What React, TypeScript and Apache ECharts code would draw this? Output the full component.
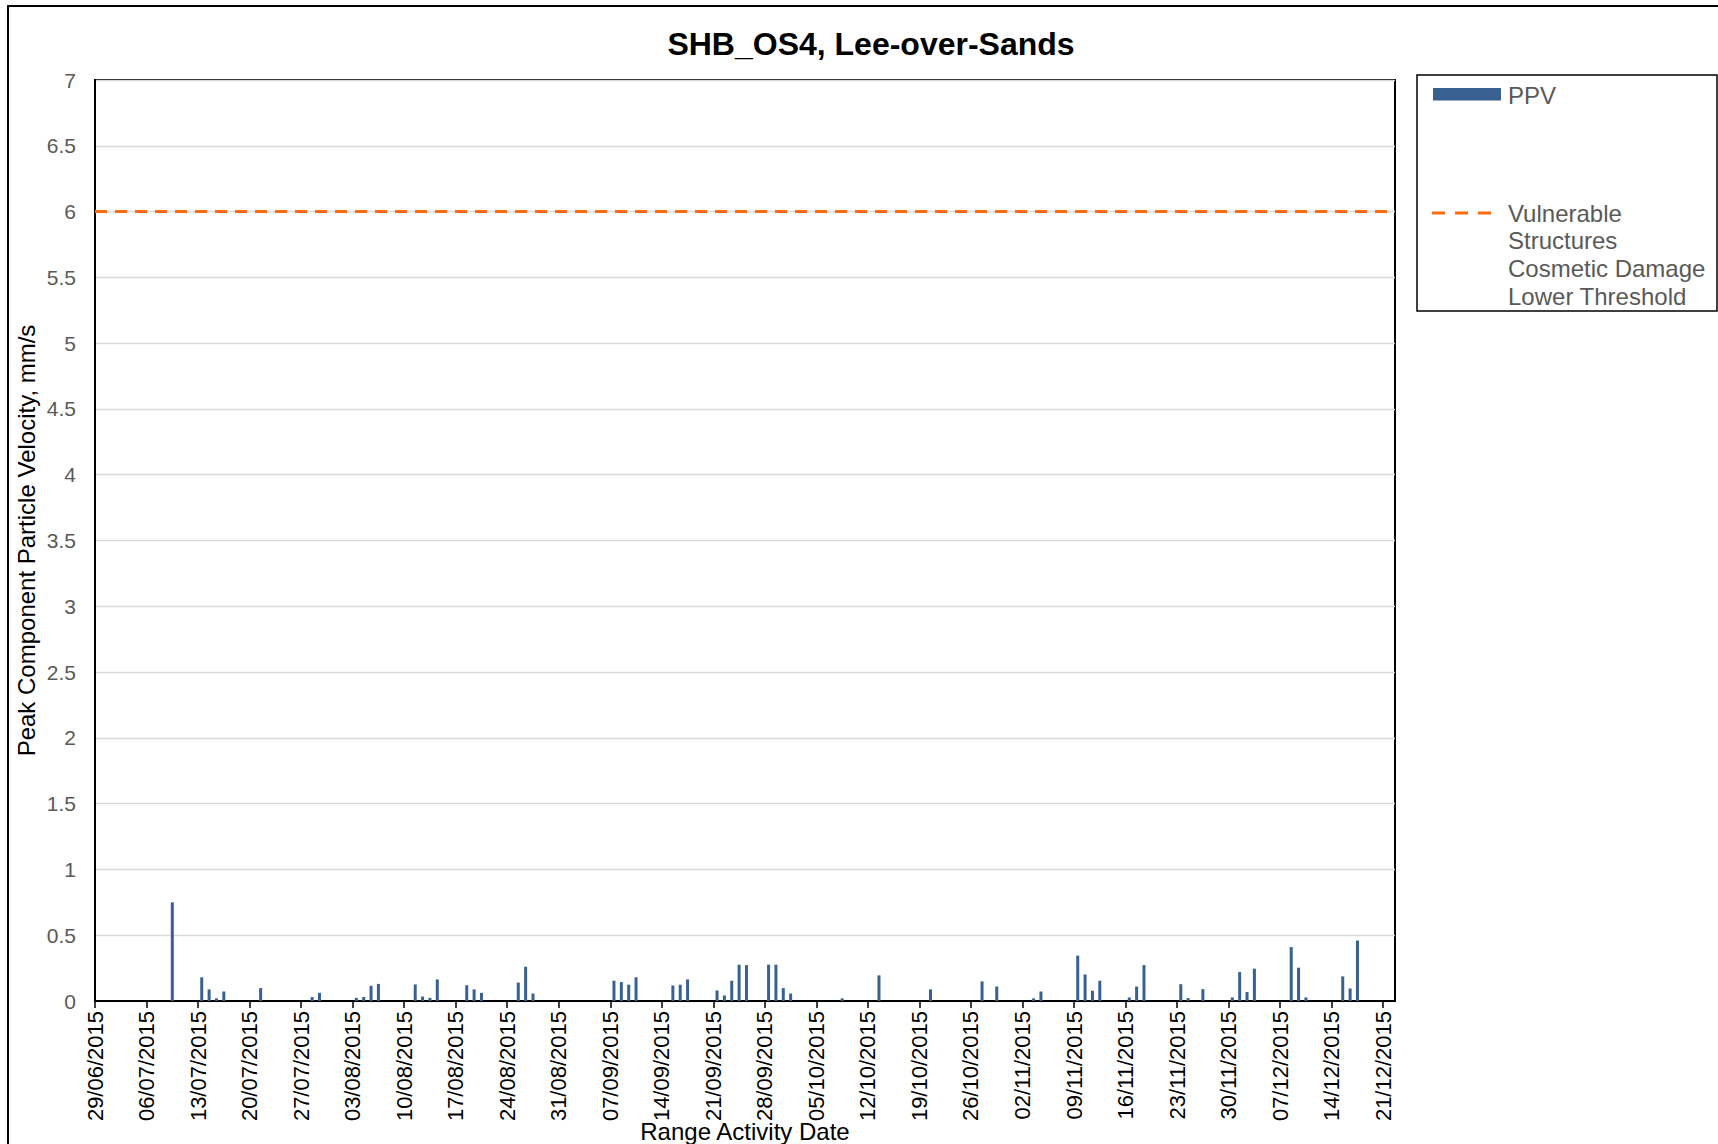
import React, { useEffect, useRef } from "react";
import * as echarts from "echarts";

const TITLE = "SHB_OS4, Lee-over-Sands";
const X_NAME = "Range Activity Date";
const Y_NAME = "Peak Component Particle Velocity, mm/s";
const SERIES_NAME = "PPV";
const THRESHOLD_NAME = ["Vulnerable", "Structures", "Cosmetic Damage", "Lower Threshold"];
const THRESHOLD = 6;
const AXIS_START = "29/06/2015";
const AXIS_END_DAYS = 176.6;
const TICK_STEP_DAYS = 7;
const Y_MIN = 0;
const Y_MAX = 7;
const Y_STEP = 0.5;

const dates = [
  "09/07/2015", "13/07/2015", "14/07/2015", "15/07/2015", "16/07/2015", "21/07/2015",
  "28/07/2015", "29/07/2015", "03/08/2015", "04/08/2015", "05/08/2015", "06/08/2015",
  "11/08/2015", "12/08/2015", "13/08/2015", "14/08/2015", "18/08/2015", "19/08/2015",
  "20/08/2015", "25/08/2015", "26/08/2015", "27/08/2015", "07/09/2015", "08/09/2015",
  "09/09/2015", "10/09/2015", "15/09/2015", "16/09/2015", "17/09/2015", "21/09/2015",
  "22/09/2015", "23/09/2015", "24/09/2015", "25/09/2015", "28/09/2015", "29/09/2015",
  "30/09/2015", "01/10/2015", "08/10/2015", "13/10/2015", "20/10/2015", "27/10/2015",
  "29/10/2015", "03/11/2015", "04/11/2015", "09/11/2015", "10/11/2015", "11/11/2015",
  "12/11/2015", "16/11/2015", "17/11/2015", "18/11/2015", "23/11/2015", "24/11/2015",
  "26/11/2015", "30/11/2015", "01/12/2015", "02/12/2015", "03/12/2015", "08/12/2015",
  "09/12/2015", "10/12/2015", "15/12/2015", "16/12/2015", "17/12/2015",
];

const ppv = [
  0.75, 0.18, 0.088, 0.02, 0.072, 0.098,
  0.03, 0.062, 0.024, 0.03, 0.116, 0.13,
  0.126, 0.034, 0.024, 0.164, 0.12, 0.088,
  0.062, 0.14, 0.26, 0.057, 0.154, 0.144,
  0.124, 0.18, 0.118, 0.124, 0.164, 0.08,
  0.042, 0.154, 0.276, 0.273, 0.276, 0.276,
  0.098, 0.057, 0.02, 0.195, 0.088, 0.149,
  0.11, 0.02, 0.072, 0.345, 0.202, 0.078,
  0.154, 0.027, 0.11, 0.273, 0.128, 0.022,
  0.09, 0.027, 0.22, 0.068, 0.246, 0.41,
  0.253, 0.027, 0.187, 0.095, 0.46,
];

const DAY_MS = 86400000;
function toUTC(s: string): number {
  const [d, m, y] = s.split("/").map(Number);
  return Date.UTC(y, m - 1, d);
}
const START_MS = toUTC(AXIS_START);
function dayIndex(s: string): number {
  return Math.round((toUTC(s) - START_MS) / DAY_MS);
}
function fmtDay(v: number): string {
  const dt = new Date(START_MS + v * DAY_MS);
  const dd = String(dt.getUTCDate()).padStart(2, "0");
  const mm = String(dt.getUTCMonth() + 1).padStart(2, "0");
  return `${dd}/${mm}/${dt.getUTCFullYear()}`;
}

const tickDays: number[] = [];
for (let v = 0; v <= AXIS_END_DAYS; v += TICK_STEP_DAYS) tickDays.push(v);

const BAR_COLOR = "#386192";
const LINE_COLOR = "#ff6a0e";
const FONT = '"Liberation Sans", Arial, sans-serif';

export default function App() {
  const ref = useRef<HTMLDivElement>(null);
  useEffect(() => {
    if (!ref.current) return;
    const chart = echarts.init(ref.current, undefined, { renderer: "svg" });
    const barData = dates.map((d, i) => [dayIndex(d) + 0.5, ppv[i]]);
    const legendX = 1417;
    const legendY = 75;
    const legendLineGap = 27.7;
    chart.setOption({
      animation: false,
      backgroundColor: "#ffffff",
      textStyle: { fontFamily: FONT },
      grid: {
        left: 95,
        top: 80,
        width: 1300,
        height: 921,
        show: true,
        borderColor: "#000000",
        borderWidth: 2,
        containLabel: false,
        outerBoundsMode: "none",
      },
      xAxis: {
        type: "value",
        min: 0,
        max: AXIS_END_DAYS,
        interval: TICK_STEP_DAYS,
        name: X_NAME,
        nameLocation: "middle",
        nameGap: 118,
        nameMoveOverlap: false,
        nameTextStyle: { fontSize: 24, color: "#000000", fontFamily: FONT },
        axisLine: { show: true, lineStyle: { color: "#000000", width: 2 } },
        axisTick: {
          show: true,
          length: 7,
          inside: false,
          lineStyle: { color: "#000000", width: 1.5 },
          customValues: tickDays,
        },
        axisLabel: {
          show: true,
          rotate: 90,
          margin: 10,
          fontSize: 22,
          color: "#000000",
          fontFamily: FONT,
          customValues: tickDays,
          showMinLabel: true,
          showMaxLabel: true,
          formatter: (v: number) => {
            const r = Math.round(v);
            if (Math.abs(v - r) > 1e-6 || r % TICK_STEP_DAYS !== 0) return "";
            return fmtDay(r);
          },
        },
        splitLine: { show: false },
      },
      yAxis: {
        type: "value",
        min: Y_MIN,
        max: Y_MAX,
        interval: Y_STEP,
        name: Y_NAME,
        nameLocation: "middle",
        nameGap: 57,
        nameMoveOverlap: false,
        nameTextStyle: { fontSize: 24, color: "#000000", fontFamily: FONT },
        axisLine: { show: true, lineStyle: { color: "#000000", width: 2 } },
        axisTick: { show: false },
        axisLabel: { margin: 19, fontSize: 21, color: "#595959", fontFamily: FONT },
        splitLine: { show: true, lineStyle: { color: "#d9d9d9", width: 1.3 } },
      },
      series: [
        {
          name: SERIES_NAME,
          type: "bar",
          data: barData,
          barWidth: 3,
          itemStyle: { color: BAR_COLOR },
          z: 3,
        },
        {
          name: THRESHOLD_NAME.join(" "),
          type: "line",
          data: [],
          markLine: {
            silent: true,
            symbol: ["none", "none"],
            label: { show: false },
            lineStyle: { color: LINE_COLOR, type: [12, 8], width: 3 },
            data: [{ yAxis: THRESHOLD }],
          },
          z: 4,
        },
      ],
      graphic: [
        {
          type: "rect",
          shape: { x: 8, y: 6, width: 1800, height: 1300 },
          style: { fill: "none", stroke: "#000000", lineWidth: 2 },
          silent: true,
          z: -1,
        },
        {
          type: "text",
          x: 871,
          y: 44,
          style: {
            text: TITLE,
            font: `bold 32px ${FONT}`,
            fill: "#000000",
            align: "center",
            verticalAlign: "middle",
          },
        },
        {
          type: "rect",
          shape: { x: legendX, y: legendY, width: 300, height: 236 },
          style: { fill: "#ffffff", stroke: "#000000", lineWidth: 1.5 },
          z: 10,
        },
        {
          type: "rect",
          shape: { x: 1433, y: 88, width: 68, height: 12.5 },
          style: { fill: BAR_COLOR },
          z: 11,
        },
        {
          type: "text",
          x: 1508,
          y: 95,
          style: {
            text: SERIES_NAME,
            font: `24px ${FONT}`,
            fill: "#595959",
            verticalAlign: "middle",
          },
          z: 11,
        },
        {
          type: "line",
          shape: { x1: 1432, y1: 213, x2: 1492, y2: 213 },
          style: { stroke: LINE_COLOR, lineWidth: 3, lineDash: [13, 10] },
          z: 11,
        },
        ...THRESHOLD_NAME.map((t, i) => ({
          type: "text",
          x: 1508,
          y: 213 + i * legendLineGap,
          style: {
            text: t,
            font: `24px ${FONT}`,
            fill: "#595959",
            verticalAlign: "middle",
          },
          z: 11,
        })),
      ],
    });
    return () => chart.dispose();
  }, []);
  return (
    <div
      ref={ref}
      style={{ position: "absolute", left: 0, top: 0, width: 1718, height: 1144, background: "#fff" }}
    />
  );
}
